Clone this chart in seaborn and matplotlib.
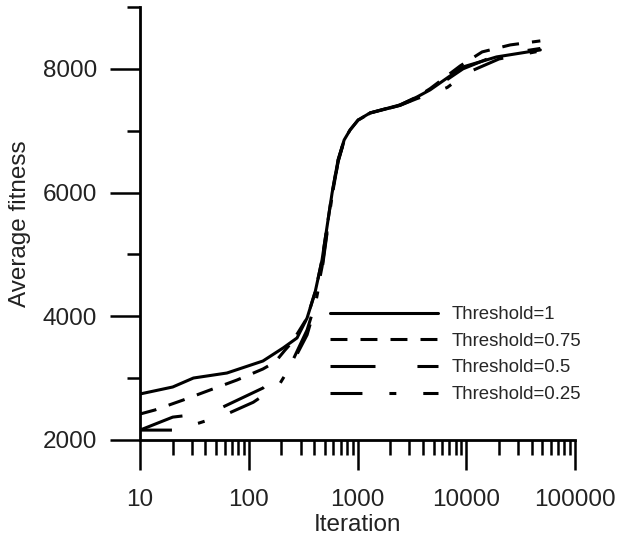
import matplotlib
matplotlib.use('Agg')

import matplotlib.pyplot as plt
import seaborn as sns
import pandas as pd
from matplotlib.ticker import FixedLocator, LogLocator, NullFormatter, FuncFormatter

labels = ['Threshold=1', 'Threshold=0.75', 'Threshold=0.5', 'Threshold=0.25']

it_1 = [10, 20, 31, 63, 135, 207, 278, 344, 408, 472, 584, 663, 754, 855, 1014, 1306, 2460, 3530, 4650, 9330, 19000, 48000]
fit_1 = [2744, 2857, 3002, 3083, 3277, 3488, 3650, 3973, 4393, 4911, 5994, 6528, 6851, 7013, 7174, 7288, 7417, 7546, 7660, 8031, 8193, 8306]

it_075 = [10, 13.7, 25, 44, 78, 135, 175, 216, 250, 344, 408, 472, 584, 663, 754, 855, 1014, 1306, 2460, 3530, 4650, 8800, 14000, 25400, 48000]
fit_075 = [2420, 2485, 2647, 2808, 2970, 3148, 3261, 3455, 3580, 3973, 4393, 4911, 5994, 6528, 6851, 7013, 7174, 7288, 7417, 7546, 7680, 8048, 8274, 8387, 8452]

it_05 = [10, 20, 25, 58, 135, 255, 344, 400, 472, 584, 663, 754, 855, 1014, 1306, 2460, 3530, 4650, 9330, 19000, 48000]
fit_05 = [2160, 2370, 2390, 2534, 2840, 3294, 3779, 4150, 4800, 5950, 6500, 6840, 7005, 7170, 7285, 7410, 7530, 7640, 8000, 8220, 8330]

it_025 = [10, 20, 35, 63, 110, 190, 255, 344, 400, 472, 584, 663, 754, 855, 1014, 1306, 2460, 3530, 5000, 6700, 10000, 20000, 48000]
fit_025 = [2160, 2160, 2275, 2420, 2610, 2890, 3260, 3700, 4100, 4750, 5950, 6500, 6840, 7005, 7170, 7285, 7410, 7520, 7610, 7700, 7930, 8160, 8290]

series = [(it_1, fit_1), (it_075, fit_075), (it_05, fit_05), (it_025, fit_025)]
df = pd.concat(
    [pd.DataFrame({'iteration': x, 'fitness': y, 'threshold': lab})
     for (x, y), lab in zip(series, labels)],
    ignore_index=True,
)

sns.set_theme(style='ticks')
plt.rcParams['font.family'] = ['Liberation Sans', 'DejaVu Sans']
plt.rcParams['lines.scale_dashes'] = False

dashes = {
    'Threshold=1': '',
    'Threshold=0.75': (12.2, 9.4),
    'Threshold=0.5': (32.4, 30.2),
    'Threshold=0.25': (23, 19.4, 5, 19.4),
}

fig = plt.figure(figsize=(6.17, 5.35), dpi=100)
ax = fig.add_axes([140 / 617, 95 / 535, 435 / 617, 433 / 535])

sns.lineplot(data=df, x='iteration', y='fitness', style='threshold',
             style_order=labels, dashes=dashes, color='black', linewidth=2.2,
             legend=False, ax=ax)

ax.set_xscale('log')
ax.set_xlim(10, 100000)
ax.set_ylim(2000, 9000)

ax.xaxis.set_major_locator(FixedLocator([10, 100, 1000, 10000, 100000]))
ax.xaxis.set_major_formatter(FuncFormatter(lambda v, _: f'{int(round(v))}'))
ax.xaxis.set_minor_locator(LogLocator(base=10, subs=range(2, 10)))
ax.xaxis.set_minor_formatter(NullFormatter())
ax.yaxis.set_major_locator(FixedLocator([2000, 4000, 6000, 8000]))
ax.yaxis.set_minor_locator(FixedLocator([3000, 5000, 7000, 9000]))

for side in ['top', 'right']:
    ax.spines[side].set_visible(False)
for side in ['left', 'bottom']:
    ax.spines[side].set_linewidth(2)
    ax.spines[side].set_color('black')

ax.tick_params(which='major', direction='out', length=21.5, width=1.8, color='black',
               labelsize=17.5, labelcolor='#222222')
ax.tick_params(axis='x', which='major', pad=14)
ax.tick_params(axis='y', which='major', pad=9.5)
ax.tick_params(axis='x', which='minor', direction='out', length=11, width=1.8, color='black')
ax.tick_params(axis='y', which='minor', direction='out', length=9.5, width=1.8, color='black')

ax.set_xlabel('Iteration', fontsize=17.5, color='#222222', labelpad=2)
ax.set_ylabel('Average fitness', fontsize=17.5, color='#222222', labelpad=8.5)

ax.legend(ax.lines[:4], labels, loc='upper left',
          bbox_to_anchor=(330 / 617, 1 - 306 / 535), bbox_transform=fig.transFigure,
          frameon=False, borderpad=0, borderaxespad=0, handlelength=5.8,
          handletextpad=0.75, labelspacing=0.52, fontsize=13.4)

fig.savefig('out.png', dpi=100)
